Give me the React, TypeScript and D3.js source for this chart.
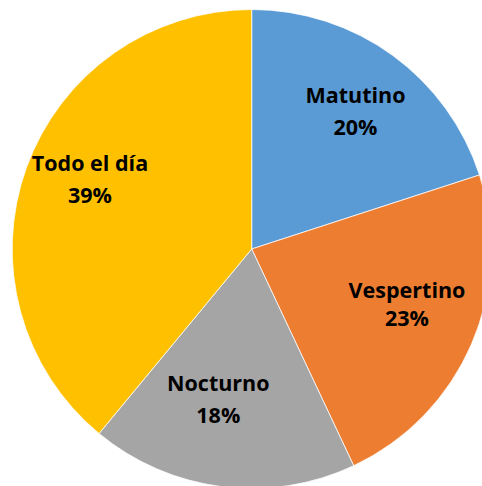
import React from "react";
import * as d3 from "d3";

const categories = ["Matutino", "Vespertino", "Nocturno", "Todo el día"];
const values = [20, 23, 18, 39];
const colors = ["#5B9BD5", "#ED7D31", "#A5A5A5", "#FFC000"];
// label centers (x) and baselines (line1, line2)
const labelPos: [number, number, number][] = [
  [355.5, 102.7, 135],
  [407, 298.3, 326],
  [218.3, 390.7, 423.3],
  [90, 170.7, 203.3],
];

const W = 482;
const H = 486;
const cx = 251.7;
const cy = 249;
const R = 239.5;

export default function App() {
  const total = d3.sum(values);
  const pie = d3.pie<number>().sort(null).value((d) => d);
  const arcs = pie(values);
  const arc = d3.arc<d3.PieArcDatum<number>>().innerRadius(0).outerRadius(R);
  return (
    <svg
      width={W}
      height={H}
      style={{ position: "absolute", left: 0, top: 0, background: "#fff" }}
    >
      <g transform={`translate(${cx},${cy})`}>
        {arcs.map((a, i) => (
          <path
            key={i}
            d={arc(a) || ""}
            fill={colors[i]}
            stroke="#fff"
            strokeWidth={0.75}
          />
        ))}
      </g>
      {categories.map((c, i) => (
        <g
          key={c}
          fontFamily="'Open Sans', Lato, sans-serif"
          fontWeight={700}
          fontSize={21.5}
          fill="#000"
          textAnchor="middle"
        >
          <text x={labelPos[i][0]} y={labelPos[i][1]}>
            {c}
          </text>
          <text x={labelPos[i][0]} y={labelPos[i][2]}>
            {`${Math.round((values[i] / total) * 100)}%`}
          </text>
        </g>
      ))}
    </svg>
  );
}
